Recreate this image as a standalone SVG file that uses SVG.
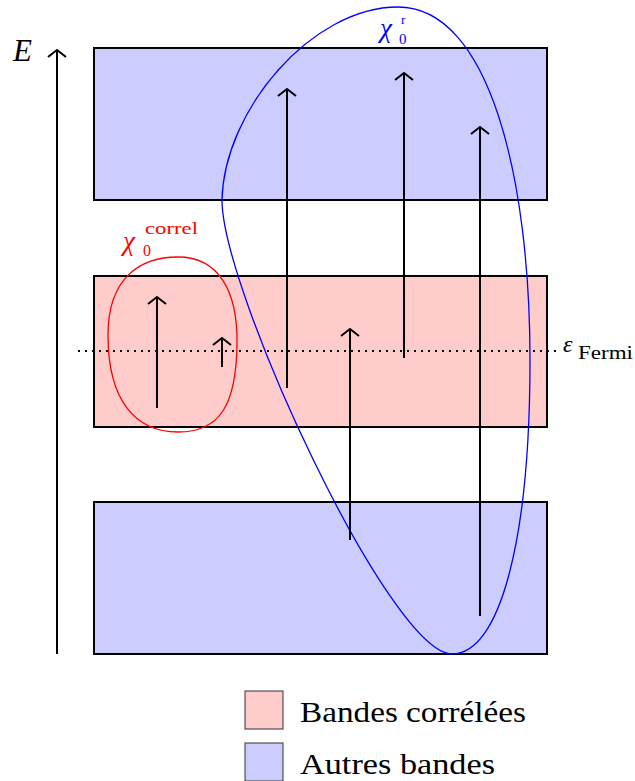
<svg xmlns="http://www.w3.org/2000/svg" width="635" height="781" viewBox="0 0 635 781">
<style>
.band{stroke:#000;stroke-width:2}
.corr{fill:#ffcccc}
.other{fill:#ccccff}
.arr{stroke:#000;stroke-width:2;fill:none;marker-end:url(#ah)}
.t{font-family:"Liberation Serif","Times New Roman","DejaVu Serif","Noto Serif",serif}
</style>
<defs>
<marker id="ah" viewBox="-10 -11 14 22" markerWidth="14" markerHeight="22" refX="0" refY="0" orient="auto" markerUnits="userSpaceOnUse">
<path d="M-7,-9 Q-1.5,-2 0,0 Q-1.5,2 -7,9" fill="none" stroke="#000" stroke-width="2"/>
</marker>
</defs>
<rect width="635" height="781" fill="#fff"/>
<g id="band-top"><rect class="band other" x="94" y="48" width="453" height="152"/></g>
<g id="band-mid"><rect class="band corr" x="94" y="276" width="453" height="151"/></g>
<g id="band-bot"><rect class="band other" x="94" y="502" width="453" height="152"/></g>
<g id="fermi">
<line x1="78" y1="351" x2="560" y2="351" stroke="#000" stroke-width="2" stroke-dasharray="2,5"/>
<text class="t" x="563" y="352" font-size="24" font-style="italic" fill="#000">ε</text>
<text class="t" x="578" y="359" font-size="18" fill="#000" textLength="55" lengthAdjust="spacingAndGlyphs">Fermi</text>
</g>
<g id="axis">
<line class="arr" x1="57" y1="654" x2="57" y2="50"/>
<text class="t" x="13" y="61" font-size="31" font-style="italic" fill="#000">E</text>
</g>
<g id="chi-correl">
<path d="M178,257 C218,257 238,290 237,345 C236,405 220,432 178,432 C135,432 108,400 108,335 C108,278 140,257 178,257 Z" fill="none" stroke="#ff0000" stroke-width="1.3"/>
<text class="t" x="123" y="250" font-size="27" fill="#ff0000" font-style="italic">χ</text>
<text class="t" x="143" y="256" font-size="16" fill="#ff0000">0</text>
<text class="t" x="145" y="234" font-size="16" fill="#ff0000" textLength="53" lengthAdjust="spacingAndGlyphs">correl</text>
</g>
<g id="chi-r">
<path d="M452,654 C500,654 530,540 530,360 C530,180 490,7 398,7 C312,7 224,110 222,200 C222,290 390,654 452,654 Z" fill="none" stroke="#0000ff" stroke-width="1.3"/>
<text class="t" x="380" y="37" font-size="27" fill="#0000ff" font-style="italic">χ</text>
<text class="t" x="399" y="44" font-size="15" fill="#0000ff">0</text>
<text class="t" x="401" y="24" font-size="13" fill="#0000ff">r</text>
</g>
<g id="transitions">
<line class="arr" x1="157" y1="408" x2="157" y2="297"/>
<line class="arr" x1="222" y1="367" x2="222" y2="338"/>
<line class="arr" x1="287" y1="388" x2="287" y2="89"/>
<line class="arr" x1="350" y1="540" x2="350" y2="329"/>
<line class="arr" x1="404" y1="358" x2="404" y2="73"/>
<line class="arr" x1="480" y1="616" x2="480" y2="127"/>
</g>
<g id="legend">
<rect x="245" y="691" width="38" height="38" fill="#ffcccc" stroke="#333" stroke-width="1"/>
<text class="t" x="300" y="722" font-size="29" fill="#000" textLength="226" lengthAdjust="spacingAndGlyphs">Bandes corrélées</text>
<rect x="245" y="743" width="38" height="38" fill="#ccccff" stroke="#333" stroke-width="1"/>
<text class="t" x="300" y="774" font-size="29" fill="#000" textLength="195" lengthAdjust="spacingAndGlyphs">Autres bandes</text>
</g>
</svg>
